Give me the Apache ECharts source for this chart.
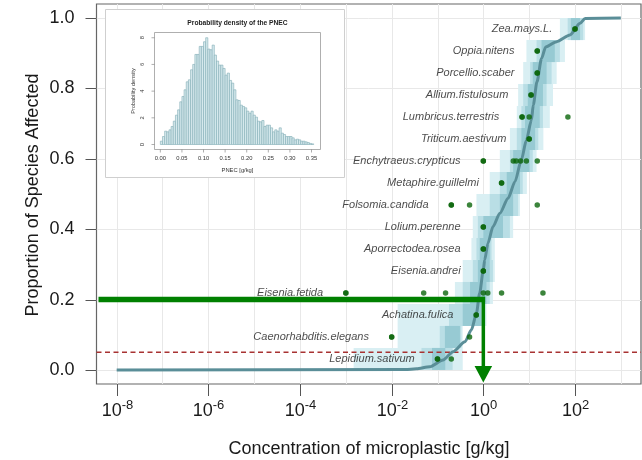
<!DOCTYPE html>
<html><head><meta charset="utf-8">
<script src="https://cdn.jsdelivr.net/npm/echarts@6/dist/echarts.min.js"></script>
<style>html,body{margin:0;padding:0;background:#fff}#c{width:642px;height:460px}</style>
</head><body><div id="c"></div>
<script>
// ---------------- data ----------------
// species ordered bottom (rank 1) to top (rank 16)
const species = ['Lepidium.sativum','Caenorhabditis.elegans','Achatina.fulica','Eisenia.fetida','Eisenia.andrei',
  'Aporrectodea.rosea','Lolium.perenne','Folsomia.candida','Metaphire.guillelmi','Enchytraeus.crypticus',
  'Triticum.aestivum','Lumbricus.terrestris','Allium.fistulosum','Porcellio.scaber','Oppia.nitens','Zea.mays.L.'];
// toxicity values, g/kg
const speciesValues = [[0.1,0.2],[0.01,0.5],[0.7],[0.001,0.05,0.15,1.0,1.25,2.5,20],[1.0],
  [1.0],[1.0],[0.2,0.5,15],[2.5],[1.0,4.5,5.2,6.5,8.7,15],
  [10],[7,10,70],[11],[15],[15],[100]];
// uncertainty bands per species (g/kg)
const bandOuterLo  = [0.00148,0.0135,0.0135,0.24,0.355,0.55,0.589,0.708,1.38,2.29,3.8,5.37,5.75,7.41,8.71,46.8];
const bandOuterHi  = [0.355,0.355,1.17,1.62,1.78,1.78,4.47,6.31,8.91,14.5,20.4,28.2,33.1,39.8,60.3,166];
const bandMiddleLo = [0.0447,0.112,0.178,0.355,0.589,0.708,0.759,1.38,2.29,3.8,5.37,6.76,7.41,10.5,14.5,69.2];
const bandMiddleHi = [0.214,0.331,1.0,1.38,1.62,1.51,3.8,5.75,7.24,12.0,15.8,20.0,24.0,30.9,46.8,151];
const bandInnerLo  = [0.0759,0.145,0.355,0.513,0.759,0.832,1.0,2.29,3.24,4.47,6.76,8.13,9.33,12.0,18.6,81.3];
const bandInnerHi  = [0.148,0.309,0.912,1.17,1.38,1.38,2.69,4.47,6.31,10.2,13.5,17.0,20.0,24.0,36.3,129];
// fitted SSD curve
const curveConc = [1e-8,0.02,0.0347,0.0676,0.132,0.219,0.398,0.55,0.708,0.83,1.0,1.07,1.26,1.62,2.29,3.47,4.9,6.76,8.7,11.2,12.3,14.8,18.6,22.9,39.8,77.6,129,166,1000];
const curveProp = [0,0.001,0.003,0.009,0.028,0.052,0.080,0.114,0.161,0.218,0.284,0.3125,0.360,0.407,0.445,0.488,0.535,0.597,0.653,0.710,0.753,0.819,0.885,0.918,0.933,0.952,0.985,0.999,1.0];
// HC20 marker and 5% hazard level
const hcConc = 1.0, hcProp = 0.2, hazardProp = 0.05;
// axes ticks
const xTickExps = [-8,-6,-4,-2,0,2];
const xGridExps = [-8,-7,-6,-5,-4,-3,-2,-1,0,1,2,3];
const yTicks = [0,0.2,0.4,0.6,0.8,1.0];
const yTickLabels = ['0.0','0.2','0.4','0.6','0.8','1.0'];
// inset histogram (PNEC density)
const histBinStart = 0, histBinWidth = 0.005;
const histDensity = [0.25,0.6,1.0,0.95,1.1,1.35,1.75,2.2,2.6,3.2,3.6,4.1,4.7,4.85,5.6,6.0,6.75,6.75,7.35,7.35,
  7.7,8.0,7.15,7.1,7.45,6.7,6.25,5.95,5.95,5.7,5.2,5.35,4.8,4.6,4.1,3.35,3.3,2.95,2.85,2.75,
  2.5,2.35,2.5,2.2,2.05,1.75,1.7,1.8,1.35,1.45,1.45,1.25,0.95,1.1,1.0,1.25,0.85,0.75,0.6,0.6,
  0.6,0.5,0.35,0.4,0.35,0.25,0.25,0.2,0.15,0.08,0.05];
const histXTicks = [0,0.05,0.10,0.15,0.20,0.25,0.30,0.35];
const histXLabels = ['0.00','0.05','0.10','0.15','0.20','0.25','0.30','0.35'];
const histYTicks = [0,2,4,6,8];

// ---------------- build ----------------
const FONT = "'Liberation Sans', Arial, Helvetica, sans-serif";
const lg = v => Math.log10(v);
const nS = species.length;
const rowMid = i => (i + 0.5) / nS;
const bandColors = ['#d9eff3', '#b9dee5', '#97cad3'];
const crisp = v => Math.round(v) + 0.5;
const expWidth = s => { let w = 0; for (const c of String(s)) w += (c === '-' ? 4.33 : 7.23); return w; };

const bandData = [];
[[bandOuterLo, bandOuterHi, 0], [bandMiddleLo, bandMiddleHi, 1], [bandInnerLo, bandInnerHi, 2]].forEach(b => {
  for (let i = 0; i < nS; i++) bandData.push([lg(b[0][i]), lg(b[1][i]), i, b[2]]);
});
const pointData = [];
speciesValues.forEach((vals, i) => vals.forEach(v => pointData.push([lg(v), rowMid(i)])));
const labelData = species.map((s, i) => [lg(Math.min.apply(null, speciesValues[i])), rowMid(i), s]);
const curveData = curveConc.map((c, i) => [lg(c), curveProp[i]]);
const histData = histDensity.map((d, i) => [histBinStart + i * histBinWidth, histBinStart + (i + 1) * histBinWidth, d]);

const chart = echarts.init(document.getElementById('c'), null, { renderer: 'canvas' });
const hidden = { show: false };
const ctr = { align: 'center', verticalAlign: 'middle', textAlign: 'center', textVerticalAlign: 'middle' };
const lft = { align: 'left', verticalAlign: 'middle', textAlign: 'left', textVerticalAlign: 'middle' };
const option = {
  animation: false,
  backgroundColor: '#ffffff',
  grid: [
    { left: 96.5, top: 4, width: 544.5, height: 380, show: true, borderColor: '#666', borderWidth: 1.2, backgroundColor: 'transparent' },
    { left: 154.2, top: 32.4, width: 165.6, height: 116.6, show: false }
  ],
  xAxis: [
    { type: 'value', gridIndex: 0, min: -8.44, max: 3.44, axisLine: hidden, axisTick: hidden, axisLabel: hidden, splitLine: hidden },
    { type: 'value', gridIndex: 1, min: -0.0142, max: 0.3692, axisLine: hidden, axisTick: hidden, axisLabel: hidden, splitLine: hidden }
  ],
  yAxis: [
    { type: 'value', gridIndex: 0, min: -0.04, max: 1.04, axisLine: hidden, axisTick: hidden, axisLabel: hidden, splitLine: hidden },
    { type: 'value', gridIndex: 1, min: -0.336, max: 8.40, axisLine: hidden, axisTick: hidden, axisLabel: hidden, splitLine: hidden }
  ],
  graphic: [
    { type: 'rect', z: 10, shape: { x: 105.5, y: 9.5, width: 239, height: 168 }, style: { fill: '#fff', stroke: '#cfcfcf', lineWidth: 1 } },
    { type: 'text', z: 12, x: 369, y: 449, style: Object.assign({ text: 'Concentration of microplastic [g/kg]', font: '18px ' + FONT, fill: '#1a1a1a' }, ctr) },
    { type: 'text', z: 12, x: 33, y: 195, rotation: Math.PI / 2, style: Object.assign({ text: 'Proportion of Species Affected', font: '18px ' + FONT, fill: '#1a1a1a' }, ctr) }
  ],
  series: [
    // vertical grid lines
    { type: 'custom', z: 0, silent: true, clip: false, xAxisIndex: 0, yAxisIndex: 0,
      data: xGridExps.map(e => [e, 0]),
      renderItem: (p, api) => { const cs = p.coordSys; const x = crisp(api.coord([api.value(0), 0])[0]);
        return { type: 'line', shape: { x1: x, y1: cs.y, x2: x, y2: cs.y + cs.height }, style: { stroke: '#e8e8e8', lineWidth: 1 } }; } },
    // horizontal grid lines + y ticks + labels
    { type: 'custom', z: 0, silent: true, clip: false, xAxisIndex: 0, yAxisIndex: 0,
      data: yTicks.map((t, i) => [0, t, i]),
      renderItem: (p, api) => { const cs = p.coordSys; const y = crisp(api.coord([0, api.value(1)])[1]);
        return { type: 'group', children: [
          { type: 'line', shape: { x1: cs.x, y1: y, x2: cs.x + cs.width, y2: y }, style: { stroke: '#e8e8e8', lineWidth: 1 } },
          { type: 'line', shape: { x1: cs.x - 11, y1: y, x2: cs.x, y2: y }, style: { stroke: '#555', lineWidth: 1 } },
          { type: 'text', x: cs.x - 22, y: y, style: { text: yTickLabels[api.value(2)], font: '18px ' + FONT, fill: '#1a1a1a', align: 'right', verticalAlign: 'middle', textAlign: 'right', textVerticalAlign: 'middle' } }
        ] }; } },
    // x ticks + labels (10 with superscript exponent)
    { type: 'custom', z: 0, silent: true, clip: false, xAxisIndex: 0, yAxisIndex: 0,
      data: xTickExps.map(e => [e, 0]),
      renderItem: (p, api) => { const cs = p.coordSys; const x = crisp(api.coord([api.value(0), 0])[0]); const yb = cs.y + cs.height;
        const ex = String(api.value(0)); const w = 20 + expWidth(ex); const left = x - w / 2;
        return { type: 'group', children: [
          { type: 'line', shape: { x1: x, y1: yb, x2: x, y2: yb + 12 }, style: { stroke: '#555', lineWidth: 1 } },
          { type: 'text', x: left, y: yb + 27.5, style: Object.assign({ text: '10', font: '18px ' + FONT, fill: '#1a1a1a' }, lft) },
          { type: 'text', x: left + 20, y: yb + 21, style: Object.assign({ text: ex, font: '13px ' + FONT, fill: '#1a1a1a' }, lft) }
        ] }; } },
    // species uncertainty bands
    { type: 'custom', z: 1, silent: true, xAxisIndex: 0, yAxisIndex: 0, data: bandData,
      renderItem: (p, api) => { const r = api.value(2);
        const p0 = api.coord([api.value(0), r / nS]); const p1 = api.coord([api.value(1), (r + 1) / nS]);
        return { type: 'rect', shape: { x: p0[0], y: p1[1], width: p1[0] - p0[0], height: p0[1] - p1[1] }, style: { fill: bandColors[api.value(3)] } }; } },
    // hazard level dashed line
    { type: 'line', z: 3, silent: true, data: [[-8.44, hazardProp], [3.44, hazardProp]], showSymbol: false, symbol: 'none',
      lineStyle: { color: '#a83232', width: 1.5, type: [5, 3.5] } },
    // fitted curve
    { type: 'line', z: 4, silent: true, data: curveData, showSymbol: false, symbol: 'none', smooth: 0.25, smoothMonotone: 'x',
      lineStyle: { color: '#5a8e98', width: 3 } },
    // toxicity points
    { type: 'scatter', z: 5, silent: true, data: pointData, symbol: 'circle', symbolSize: 5.5, itemStyle: { color: '#0a650a' } },
    // species labels
    { type: 'scatter', z: 5, silent: true, data: labelData, symbol: 'circle', symbolSize: 5.5, itemStyle: { color: '#0a650a' },
      label: { show: true, position: 'left', distance: 20, formatter: q => q.data[2], fontStyle: 'italic', fontSize: 11, fontFamily: FONT, color: '#1a1a1a' } },
    // HC20 green lines with arrow
    { type: 'custom', z: 6, silent: true, clip: false, xAxisIndex: 0, yAxisIndex: 0, data: [[lg(hcConc), hcProp]],
      renderItem: (p, api) => { const cs = p.coordSys; const pt = api.coord([api.value(0), api.value(1)]);
        const yTip = cs.y + cs.height - 1.5, headH = 16.5, halfW = 8.8;
        return { type: 'group', children: [
          { type: 'line', shape: { x1: cs.x + 2, y1: pt[1], x2: pt[0] + 1.75, y2: pt[1] }, style: { stroke: '#008000', lineWidth: 5.5 } },
          { type: 'line', shape: { x1: pt[0], y1: pt[1] - 2.75, x2: pt[0], y2: yTip - headH + 1 }, style: { stroke: '#008000', lineWidth: 3.5 } },
          { type: 'polygon', shape: { points: [[pt[0] - halfW, yTip - headH], [pt[0] + halfW, yTip - headH], [pt[0], yTip]] }, style: { fill: '#008000' } }
        ] }; } },
    // inset histogram bars
    { type: 'custom', z: 11, silent: true, xAxisIndex: 1, yAxisIndex: 1, data: histData,
      renderItem: (p, api) => { const p0 = api.coord([api.value(0), 0]); const p1 = api.coord([api.value(1), api.value(2)]);
        return { type: 'rect', shape: { x: p0[0], y: p1[1], width: p1[0] - p0[0], height: p0[1] - p1[1] }, style: { fill: '#d6e9ed', stroke: '#82adb6', lineWidth: 0.6 } }; } },
    // inset axes, box and texts
    { type: 'custom', z: 12, silent: true, clip: false, xAxisIndex: 1, yAxisIndex: 1, data: [[0, 0]],
      renderItem: (p, api) => { const cs = p.coordSys; const ch = [];
        const bx = crisp(cs.x), by = crisp(cs.y), bb = crisp(cs.y + cs.height), br = crisp(cs.x + cs.width);
        ch.push({ type: 'rect', shape: { x: bx, y: by, width: br - bx, height: bb - by }, style: { fill: 'none', stroke: '#9a9a9a', lineWidth: 0.8 } });
        histXTicks.forEach((t, i) => { const x = api.coord([t, 0])[0];
          ch.push({ type: 'line', shape: { x1: x, y1: bb, x2: x, y2: bb + 3 }, style: { stroke: '#777', lineWidth: 0.6 } });
          ch.push({ type: 'text', x: x, y: bb + 9, style: Object.assign({ text: histXLabels[i], font: '5.8px ' + FONT, fill: '#333' }, ctr) });
        });
        histYTicks.forEach(t => { const y = api.coord([0, t])[1];
          ch.push({ type: 'line', shape: { x1: bx - 3, y1: y, x2: bx, y2: y }, style: { stroke: '#777', lineWidth: 0.6 } });
          ch.push({ type: 'text', x: bx - 12, y: y, rotation: Math.PI / 2, style: Object.assign({ text: String(t), font: '5.8px ' + FONT, fill: '#333' }, ctr) });
        });
        ch.push({ type: 'text', x: (bx + br) / 2, y: by - 9, style: Object.assign({ text: 'Probability density of the PNEC', font: 'bold 6.7px ' + FONT, fill: '#222' }, ctr) });
        ch.push({ type: 'text', x: (bx + br) / 2, y: bb + 20.5, style: Object.assign({ text: 'PNEC [g/kg]', font: '5.8px ' + FONT, fill: '#333' }, ctr) });
        ch.push({ type: 'text', x: bx - 21, y: (by + bb) / 2, rotation: Math.PI / 2, style: Object.assign({ text: 'Probability density', font: '5.6px ' + FONT, fill: '#333' }, ctr) });
        return { type: 'group', children: ch }; } }
  ]
};
chart.setOption(option);
</script>
</body></html>
